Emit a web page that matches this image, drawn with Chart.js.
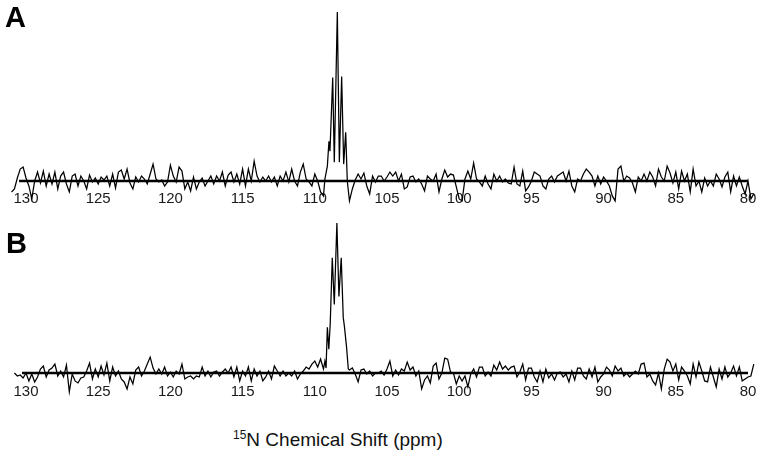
<!DOCTYPE html>
<html>
<head>
<meta charset="utf-8">
<script src="https://cdn.jsdelivr.net/npm/chart.js@4.4.1/dist/chart.umd.min.js"></script>
<style>
body{margin:0;background:#fff;font-family:"Liberation Sans",Arial,sans-serif}
#wrap{position:relative;width:762px;height:463px}
.box{position:absolute;left:0;width:762px}
.lbl{position:absolute;font-weight:bold;font-size:29px;line-height:29px;color:#000}
#xtitle{position:absolute;left:233px;top:430px;font-size:19px;line-height:19px;color:#111;white-space:nowrap}
#xtitle sup{font-size:12px;position:relative;top:-7px;vertical-align:baseline;line-height:0}
</style>
</head>
<body>
<div id="wrap">
<div class="box" style="top:0;height:212px"><canvas id="chartA"></canvas></div>
<div class="box" style="top:212px;height:196px"><canvas id="chartB"></canvas></div>
<div class="lbl" style="top:3px;left:5px">A</div>
<div class="lbl" style="top:229px;left:6px">B</div>
<div id="xtitle"><sup>15</sup>N Chemical Shift (ppm)</div>
</div>
<script>
// sampling grid (ppm) for the noise stretches
const step = 0.2
const startLeftA = 131.0
const startLeftB = 130.8
const startRight = 107.6

// spectrum A, noise left of the peak (131.0 -> 109.4)
const noiseLeftA = [
-11,-8,3,12,14,3,-5,-18,0,9,
-2,10,-5,7,-3,9,-8,5,9,-3,
-11,5,7,-5,5,0,-8,6,-1,3,
-3,4,1,5,-5,7,-7,9,11,2,
12,-2,-8,4,-1,5,2,-3,7,17,
2,-1,1,-5,-1,16,5,-1,14,10,
-8,-1,-10,4,-8,-1,3,-5,0,5,
-3,5,0,9,-5,6,9,-1,7,-3,
12,-5,12,0,20,5,-1,4,0,5,
-1,4,-5,5,0,9,-1,12,0,-5,
9,17,2,-1,-5,7,0,-11,-15]
// spectrum A, peak
const peakShiftA = [109.30,109.13,109.02,108.95,108.76,108.65,108.44,108.30,108.14,108.00,107.86,107.75]
const peakIntA   = [2,15,40,30,104,19,170,19,105,17,49,0]
// spectrum A, noise right of the peak (107.6 -> 79.6)
const noiseRightA = [
-20,-8,1,7,2,8,-5,-13,5,
-1,5,5,0,4,9,5,9,0,7,
-8,-6,4,5,-1,2,-3,-10,5,2,
0,7,-11,2,11,4,7,6,-6,-18,
-20,2,10,2,18,2,-1,-5,5,-3,
-8,7,0,5,-1,2,-2,-3,14,-3,
-5,10,-10,-6,0,9,7,5,-5,-8,
2,5,-1,5,7,9,0,10,-5,-11,
2,0,7,12,9,5,-5,5,-3,4,
0,-5,-15,-20,12,15,0,5,3,-2,
-11,4,0,7,0,9,4,-5,12,4,
0,15,8,-2,9,-8,10,0,7,-11,
12,-5,0,-11,3,-5,0,-5,7,2,
-6,4,9,-11,5,-5,4,-5,-13,0,
-18,-13]

// spectrum B
const noiseLeftB = [
0,-3,-2,-5,0,-8,-1,-9,-4,4,
7,-4,3,5,9,-3,2,-4,8,-19,
-1,-8,-10,-5,-4,2,10,-6,4,-4,
7,-2,10,-8,6,-3,2,-6,-9,-16,
-4,-11,3,6,-3,2,9,16,5,-1,
4,-1,6,-3,1,-4,2,-1,9,-6,
-4,-3,-6,-3,-4,6,-3,2,-4,1,
2,-3,1,4,0,6,-4,6,-8,2,
-3,6,-8,4,-3,2,-8,-4,2,-6,
7,2,-3,2,-3,0,-3,2,-6,-1,
2,6,4,9,12,6,14,4]
const peakShiftB = [109.30,109.22,109.13,109.03,108.93,108.79,108.65,108.47,108.33,108.17,108.03,107.95,107.80,107.68]
const peakIntB   = [12,5,46,24,50,116,69,151,77,116,56,47,26,4]
const noiseRightB = [
3,5,-1,-9,3,4,-1,2,-3,
0,0,2,-2,4,12,-3,3,-2,4,
2,11,3,6,-3,2,-16,-7,-3,-10,
7,10,-6,0,15,14,1,0,-11,-3,
-8,-3,-14,-1,4,-4,6,6,-3,1,
-3,8,3,11,4,7,3,6,7,-4,
1,9,-7,5,5,-4,-9,2,-9,4,
-5,-1,-7,0,1,-4,-1,-9,2,-7,
5,5,-3,-6,4,-4,6,-9,-4,-1,
6,3,-3,7,2,5,-3,0,-4,-1,
2,-1,9,10,-4,-1,-8,-12,0,-16,
4,14,11,2,9,-7,6,2,-3,-11,
9,-4,11,2,-8,-9,6,-4,-14,4,
-6,6,-4,0,7,-3,6,-8,-6,-4,
-3,9]

const baseA = [130.48, 80]
const baseB = [130.28, 80]
const tickFont = {family:'"Liberation Sans", Arial, sans-serif', size:15}

function buildSpectrum(left, startL, pShift, pInt, right){
  const pts = []
  left.forEach((v,i)=>pts.push({x:+(startL - i*step).toFixed(2), y:v}))
  pShift.forEach((p,i)=>pts.push({x:p, y:pInt[i]}))
  right.forEach((v,i)=>pts.push({x:+(startRight - i*step).toFixed(2), y:v}))
  return pts
}

function makeChart(id, pts, base, ymin, ymax, padBottom){
  return new Chart(document.getElementById(id), {
    type:'line',
    data:{
      datasets:[
        {data:pts, borderColor:'#000', borderWidth:1.25, pointRadius:0, tension:0, clip:false},
        {data:base.map(x=>({x:x,y:0})), borderColor:'#000', borderWidth:2.6, pointRadius:0, clip:false}
      ]
    },
    options:{
      animation:false,
      responsive:true,
      maintainAspectRatio:false,
      layout:{padding:{top:10,left:26,right:14,bottom:padBottom}},
      plugins:{legend:{display:false},tooltip:{enabled:false}},
      scales:{
        x:{type:'linear', min:80, max:130, reverse:true,
           grid:{display:false}, border:{display:false},
           ticks:{stepSize:5, padding:0, color:'#1a1a1a', font:tickFont, maxRotation:0}},
        y:{display:false, min:ymin, max:ymax}
      }
    }
  })
}

makeChart('chartA', buildSpectrum(noiseLeftA, startLeftA, peakShiftA, peakIntA, noiseRightA), baseA, -1, 172, 4)
makeChart('chartB', buildSpectrum(noiseLeftB, startLeftB, peakShiftB, peakIntB, noiseRightB), baseB, -2, 152, 7)
</script>
</body>
</html>
